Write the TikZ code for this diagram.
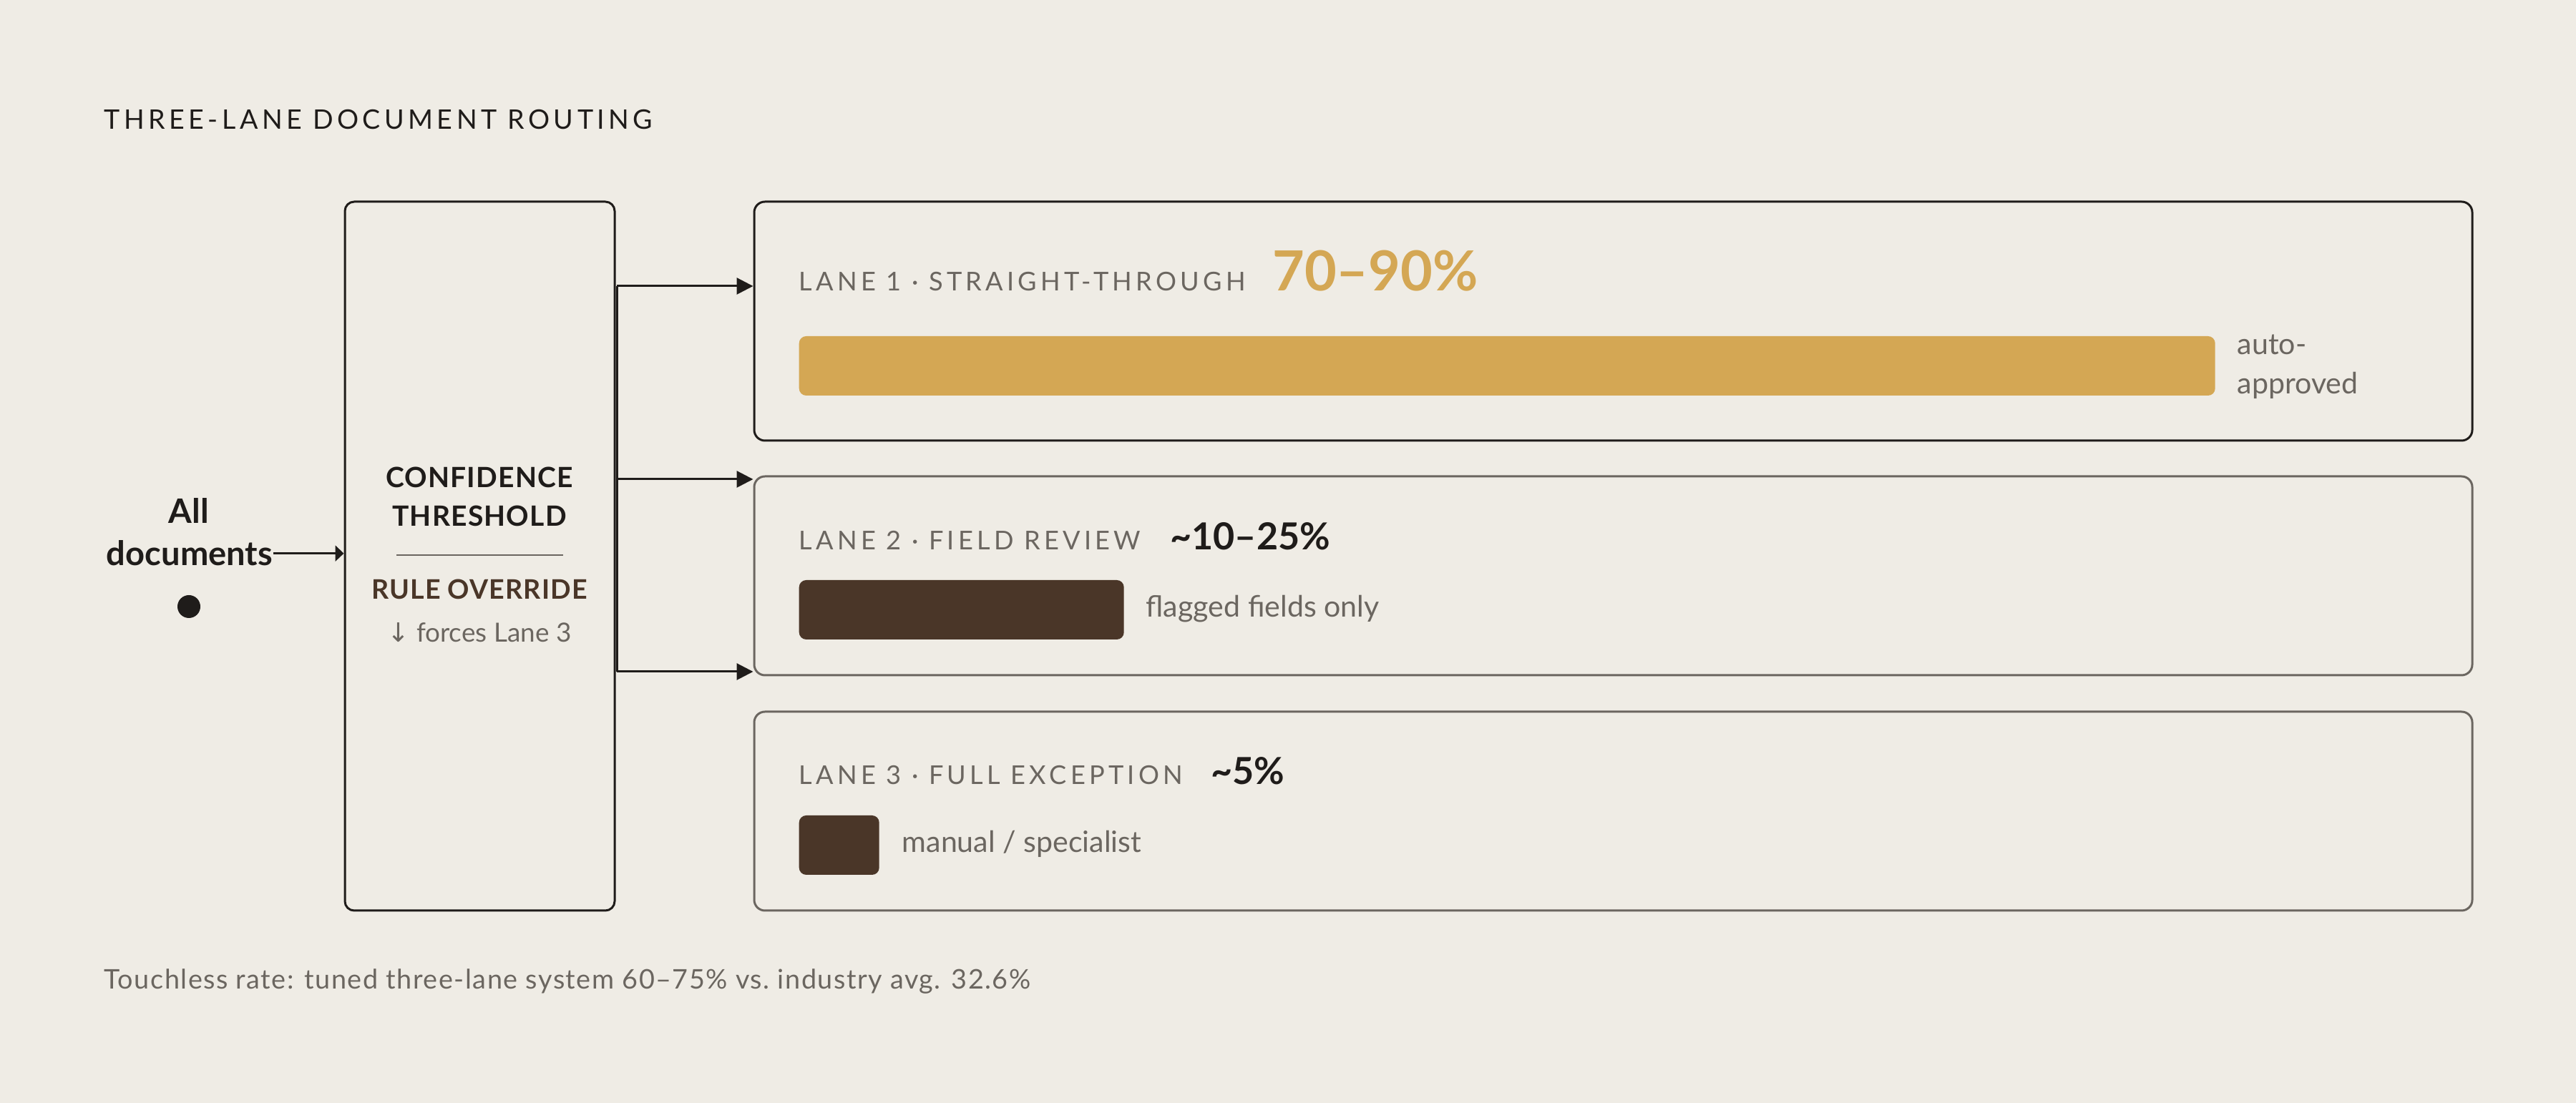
\documentclass[tikz,border=0pt]{standalone}
\usepackage{fontspec}
\setmainfont{Lato}
\newfontfamily\trackfont[LetterSpace=14.5]{Lato}
\newfontfamily\gatefont[LetterSpace=3]{Lato}
\newfontfamily\footfont[LetterSpace=4]{Lato}
\newfontfamily\symbfont{DejaVu Sans}
\usetikzlibrary{arrows.meta, positioning}

\definecolor{paper}{HTML}{EFECE5}
\definecolor{ink}{HTML}{1F1C1A}
\definecolor{stone}{HTML}{6B6660}
\definecolor{ochre}{HTML}{D4A754}
\definecolor{umber}{HTML}{4A3628}

\tikzset{
  lanebox/.style={draw=stone, line width=0.85pt, rounded corners=0.15cm,
    minimum width=24.01cm, minimum height=2.78cm, inner sep=0},
  barbox/.style={fill=umber, rounded corners=0.1cm, minimum height=0.83cm,
    inner sep=0, anchor=west},
  tag/.style={anchor=base west, inner sep=0, text=stone,
    font=\trackfont\fontsize{10.3}{12}\selectfont},
  share/.style={anchor=base west, inner sep=0, text=ink,
    font=\bfseries\fontsize{14.8}{17}\selectfont},
  note/.style={anchor=base west, inner sep=0, text=stone,
    font=\fontsize{11.7}{14}\selectfont},
  srctext/.style={anchor=base, inner sep=0, text=ink,
    font=\bfseries\fontsize{13.4}{16}\selectfont},
  gatetext/.style={anchor=base, inner sep=0, text=ink,
    font=\gatefont\bfseries\fontsize{11.1}{14}\selectfont},
  feed/.style={-{Triangle[length=0.23cm,width=0.23cm]}, line width=0.85pt, draw=ink},
}

\begin{document}
\begin{tikzpicture}
    \fill[paper] (0,0) rectangle (36,15.42);
    \useasboundingbox (0,0) rectangle (36,15.42);

    \node[anchor=base west, inner sep=0, text=ink,
      font=\trackfont\fontsize{10.7}{13}\selectfont] (title) at (1.45,13.61)
      {THREE-LANE DOCUMENT ROUTING};

    % input
    \node[srctext] (all) at (2.64,8.10) {All};
    \node[srctext] (docs) at (2.65,7.51) {documents};
    \node[circle, fill=ink, minimum size=0.32cm, inner sep=0] (dot) at (2.64,6.94) {};

    % threshold gate
    \node[draw=ink, line width=0.85pt, rounded corners=0.13cm,
      minimum width=3.77cm, minimum height=9.91cm] (gate) at (6.705,7.645) {};
    \draw[-{Triangle[length=0.12cm,width=0.22cm]}, line width=0.85pt, ink]
      (docs.east) -- (docs.east -| gate.west);

    \node[gatetext] (conf) at (6.70,8.60) {CONFIDENCE};
    \node[gatetext] (thresh) at (6.70,8.06) {THRESHOLD};
    \draw[stone, line width=0.5pt] (5.54,7.66) -- (7.87,7.66);
    \node[gatetext, text=umber, font=\gatefont\bfseries\fontsize{10.7}{14}\selectfont]
      (override) at (6.70,7.04) {RULE OVERRIDE};
    \node[anchor=base, inner sep=0, text=stone, font=\fontsize{10.5}{12}\selectfont]
      (forces) at (6.70,6.44) {{\symbfont ↓} forces Lane 3};

    % lanes
    \node[lanebox, draw=ink, minimum height=3.34cm] (lane1) at (22.545,10.93) {};
    \node[lanebox] (lane2) at (22.545,7.37) {};
    \node[lanebox] (lane3) at (22.545,4.08) {};

    \coordinate (fork1) at (8.62,11.42);
    \coordinate (fork2) at (8.62,8.72);
    \coordinate (fork3) at (8.62,6.03);
    \draw[ink, line width=0.85pt] (fork1) -- (fork3);
    \foreach \k/\lane in {1/lane1, 2/lane2, 3/lane2}
      \draw[feed] (fork\k) -- (fork\k -| \lane.west);

    % lane 1
    \node[tag] (tag1) at (11.16,11.35) {LANE 1 · STRAIGHT-THROUGH};
    \node[share, text=ochre, font=\bfseries\fontsize{22}{26}\selectfont,
      right=0.36cm of tag1.base east, anchor=base west] (share1) {70–90\%};
    \node[barbox, fill=ochre, minimum width=19.79cm] (bar1) at (11.16,10.305) {};
    \node[note] (auto) at (31.26,10.46) {auto-};
    \node[note] (approved) at (31.26,9.91) {approved};

    % lane 2
    \node[tag] (tag2) at (11.16,7.73) {LANE 2 · FIELD REVIEW};
    \node[share, right=0.40cm of tag2.base east, anchor=base west] (share2)
      {\textasciitilde 10–25\%};
    \node[barbox, minimum width=4.54cm] (bar2) at (11.16,6.895) {};
    \node[note] (flagged) at (16.01,6.79) {flagged fields only};

    % lane 3
    \node[tag] (tag3) at (11.16,4.45) {LANE 3 · FULL EXCEPTION};
    \node[share, right=0.38cm of tag3.base east, anchor=base west] (share3)
      {\textasciitilde 5\%};
    \node[barbox, minimum width=1.12cm] (bar3) at (11.16,3.605) {};
    \node[note] (manual) at (12.60,3.50) {manual / specialist};

    \node[anchor=base west, inner sep=0, text=stone,
      font=\footfont\fontsize{10.75}{12}\selectfont] (foot) at (1.45,1.59)
      {Touchless rate: tuned three-lane system 60–75\% vs.\ industry avg. 32.6\%};
\end{tikzpicture}
\end{document}
